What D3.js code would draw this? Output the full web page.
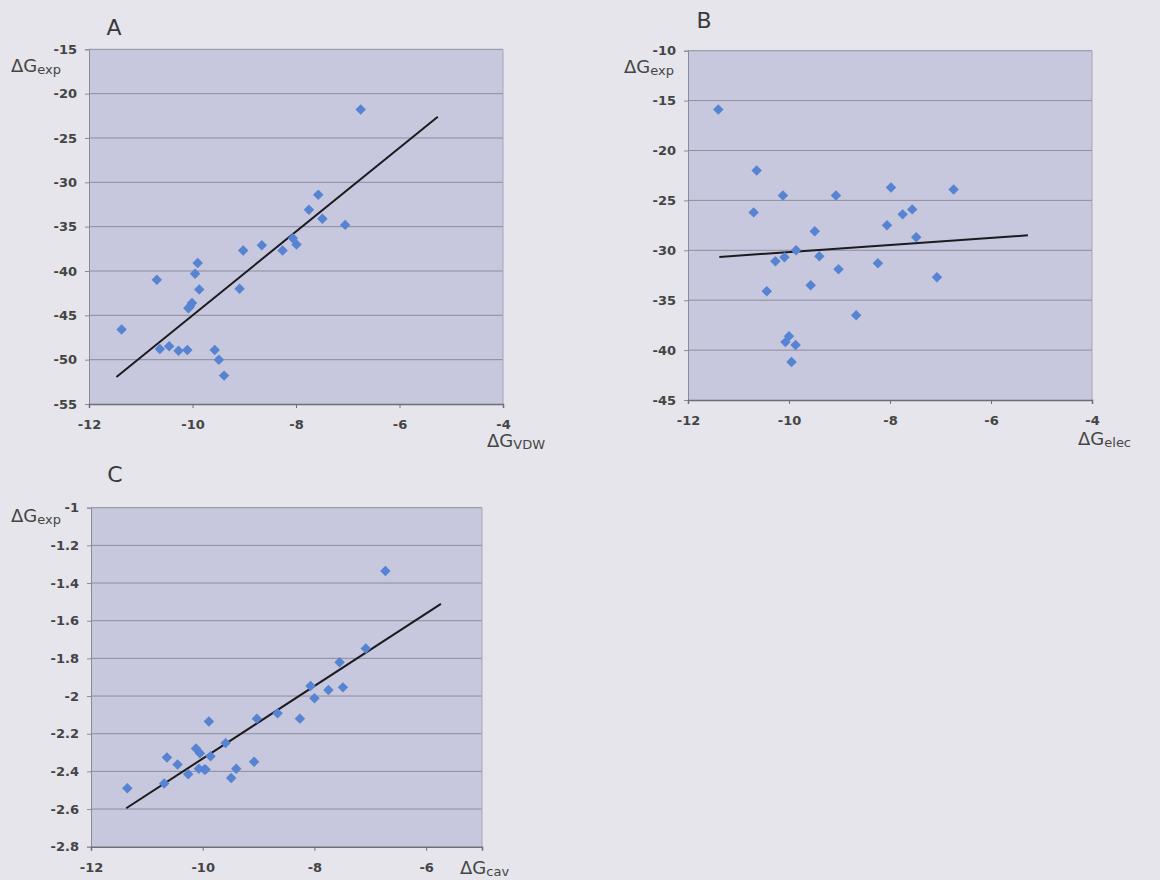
<!DOCTYPE html>
<html>
<head>
<meta charset="utf-8">
<script src="https://cdn.jsdelivr.net/npm/d3@7"></script>
<style>
  html, body { margin: 0; padding: 0; background: #e6e5ec; }
  svg { display: block; }
  text { font-family: "DejaVu Sans", Verdana, sans-serif; }
</style>
</head>
<body>
<svg id="chart" width="1160" height="880"></svg>
<script>
// ---- tick values ----
const xTicksAB = [-12, -10, -8, -6, -4];
const xTicksC = [-12, -10, -8, -6];
const yTicksA = [-15, -20, -25, -30, -35, -40, -45, -50, -55];
const yTicksB = [-10, -15, -20, -25, -30, -35, -40, -45];
const yTicksC = [-1, -1.2, -1.4, -1.6, -1.8, -2, -2.2, -2.4, -2.6, -2.8];

// ---- panel A: ΔG_exp vs ΔG_VDW ----
const xA = [-11.37, -10.69, -10.63, -10.45, -10.27, -10.10, -10.08, -10.05, -10.01, -9.95, -9.90,
            -9.87, -9.57, -9.49, -9.39, -9.09, -9.02, -8.66, -8.26, -8.06, -7.99, -7.75,
            -7.57, -7.49, -7.05, -6.75];
const yA = [-46.6, -41.0, -48.8, -48.5, -49.0, -48.9, -44.2, -44.0, -43.6, -40.3, -39.1,
            -42.1, -48.9, -50.0, -51.8, -42.0, -37.7, -37.1, -37.7, -36.3, -37.0, -33.1,
            -31.4, -34.1, -34.8, -21.8];
const trendA = [[-11.47, -51.95], [-5.26, -22.6]];

// ---- panel B: ΔG_exp vs ΔG_elec ----
const xB = [-11.40, -10.70, -10.64, -10.44, -10.27, -10.12, -10.09, -10.07, -10.00, -9.95, -9.87,
            -9.86, -9.57, -9.49, -9.40, -9.07, -9.02, -8.67, -8.24, -8.06, -7.98, -7.75,
            -7.56, -7.48, -7.07, -6.74];
const yB = [-15.9, -26.2, -22.0, -34.1, -31.1, -24.5, -30.7, -39.2, -38.6, -41.2, -39.5,
            -30.0, -33.5, -28.1, -30.6, -24.5, -31.9, -36.5, -31.3, -27.5, -23.7, -26.4,
            -25.9, -28.7, -32.7, -23.9];
const trendB = [[-11.38, -30.67], [-5.27, -28.50]];

// ---- panel C: ΔG_exp vs ΔG_cav ----
const xC = [-11.35, -10.69, -10.64, -10.45, -10.26, -10.12, -10.07, -10.05, -9.97, -9.95, -9.89,
            -9.86, -9.59, -9.49, -9.40, -9.08, -9.03, -8.66, -8.26, -8.07, -8.00, -7.75,
            -7.55, -7.49, -7.08, -6.73];
const yC = [-2.49, -2.465, -2.326, -2.364, -2.415, -2.278, -2.386, -2.304, -2.39, -2.39, -2.135,
            -2.32, -2.25, -2.435, -2.386, -2.349, -2.12, -2.092, -2.12, -1.947, -2.012, -1.968,
            -1.821, -1.954, -1.747, -1.336];
const trendC = [[-11.37, -2.596], [-5.735, -1.511]];

// ---- layout of the three panels ----
const panels = [
  { letter: "A", xs: xA, ys: yA, trend: trendA, xTicks: xTicksAB, yTicks: yTicksA,
    xDomain: [-12, -4], yDomain: [-55, -15],
    left: 89, right: 503, top: 49.3, bottom: 404,
    letterPos: [114, 35], yTitlePos: [11, 72], xTitlePos: [487, 447], xSub: "VDW" },
  { letter: "B", xs: xB, ys: yB, trend: trendB, xTicks: xTicksAB, yTicks: yTicksB,
    xDomain: [-12, -4], yDomain: [-45, -10],
    left: 688, right: 1092, top: 50.7, bottom: 400,
    letterPos: [704, 28], yTitlePos: [624, 73], xTitlePos: [1078, 445], xSub: "elec" },
  { letter: "C", xs: xC, ys: yC, trend: trendC, xTicks: xTicksC, yTicks: yTicksC,
    xDomain: [-12, -5], yDomain: [-2.8, -1],
    left: 91, right: 482, top: 507.7, bottom: 846.7,
    letterPos: [115, 482], yTitlePos: [11, 522], xTitlePos: [460, 874], xSub: "cav" }
];

const svg = d3.select("#chart");
svg.append("rect").attr("width", 1160).attr("height", 880).attr("fill", "#e6e5ec");

const diamond = d3.symbol().type(d3.symbolDiamond2 || d3.symbolDiamond).size(70);

function titleWithSub(g, x, y, sub) {
  const t = g.append("text").attr("x", x).attr("y", y)
    .attr("fill", "#454545").attr("font-size", 18);
  t.append("tspan").text("ΔG");
  t.append("tspan").attr("font-size", 13).attr("dy", 2).text(sub);
  return t;
}

panels.forEach(p => {
  const x = d3.scaleLinear().domain(p.xDomain).range([p.left, p.right]);
  const y = d3.scaleLinear().domain(p.yDomain).range([p.bottom, p.top]);
  const g = svg.append("g");

  // plot area
  g.append("rect")
    .attr("x", p.left).attr("y", p.top)
    .attr("width", p.right - p.left).attr("height", p.bottom - p.top)
    .attr("fill", "#c7c7dd");

  // horizontal gridlines
  g.selectAll("line.grid").data(p.yTicks.filter(v => v !== p.yDomain[0]))
    .join("line").attr("class", "grid")
    .attr("x1", p.left).attr("x2", p.right)
    .attr("y1", d => y(d)).attr("y2", d => y(d))
    .attr("stroke", "#8f8e9c").attr("stroke-width", 1);

  // right border
  g.append("line")
    .attr("x1", p.right).attr("x2", p.right).attr("y1", p.top).attr("y2", p.bottom)
    .attr("stroke", "#a6a5b4").attr("stroke-width", 1);

  // y axis
  const yAxis = d3.axisLeft(y).tickValues(p.yTicks).tickSize(4).tickPadding(8)
    .tickFormat(d => String(d));
  const ya = g.append("g").attr("transform", `translate(${p.left},0)`).call(yAxis);
  ya.select(".domain").attr("stroke", "#8a8a96");
  ya.selectAll(".tick line").attr("stroke", "#8a8a96");
  ya.selectAll("text").attr("font-size", 13).attr("font-weight", "bold")
    .attr("fill", "#444").attr("font-family", '"DejaVu Sans", Verdana, sans-serif');

  // x axis
  const xAxis = d3.axisBottom(x).tickValues(p.xTicks).tickSize(4).tickPadding(12)
    .tickFormat(d => String(d));
  const xa = g.append("g").attr("transform", `translate(0,${p.bottom})`).call(xAxis);
  xa.select(".domain").attr("stroke", "#6e6d78").attr("stroke-width", 1.5);
  xa.selectAll(".tick line").attr("stroke", "#6e6d78");
  xa.selectAll("text").attr("font-size", 13).attr("font-weight", "bold")
    .attr("fill", "#444").attr("font-family", '"DejaVu Sans", Verdana, sans-serif');

  // trend line
  g.append("path")
    .datum(p.trend)
    .attr("d", d3.line().x(d => x(d[0])).y(d => y(d[1])))
    .attr("stroke", "#1c1a1e").attr("stroke-width", 2).attr("fill", "none");

  // data points
  g.selectAll("path.pt").data(p.xs.map((v, i) => [v, p.ys[i]]))
    .join("path").attr("class", "pt")
    .attr("d", diamond)
    .attr("transform", d => `translate(${x(d[0])},${y(d[1])})`)
    .attr("fill", "#5784d2");

  // panel letter
  g.append("text").attr("x", p.letterPos[0]).attr("y", p.letterPos[1])
    .attr("text-anchor", "middle").attr("font-size", 22).attr("fill", "#3a3a3a")
    .text(p.letter);

  // axis titles
  titleWithSub(g, p.yTitlePos[0], p.yTitlePos[1], "exp");
  titleWithSub(g, p.xTitlePos[0], p.xTitlePos[1], p.xSub);
});
</script>
</body>
</html>
